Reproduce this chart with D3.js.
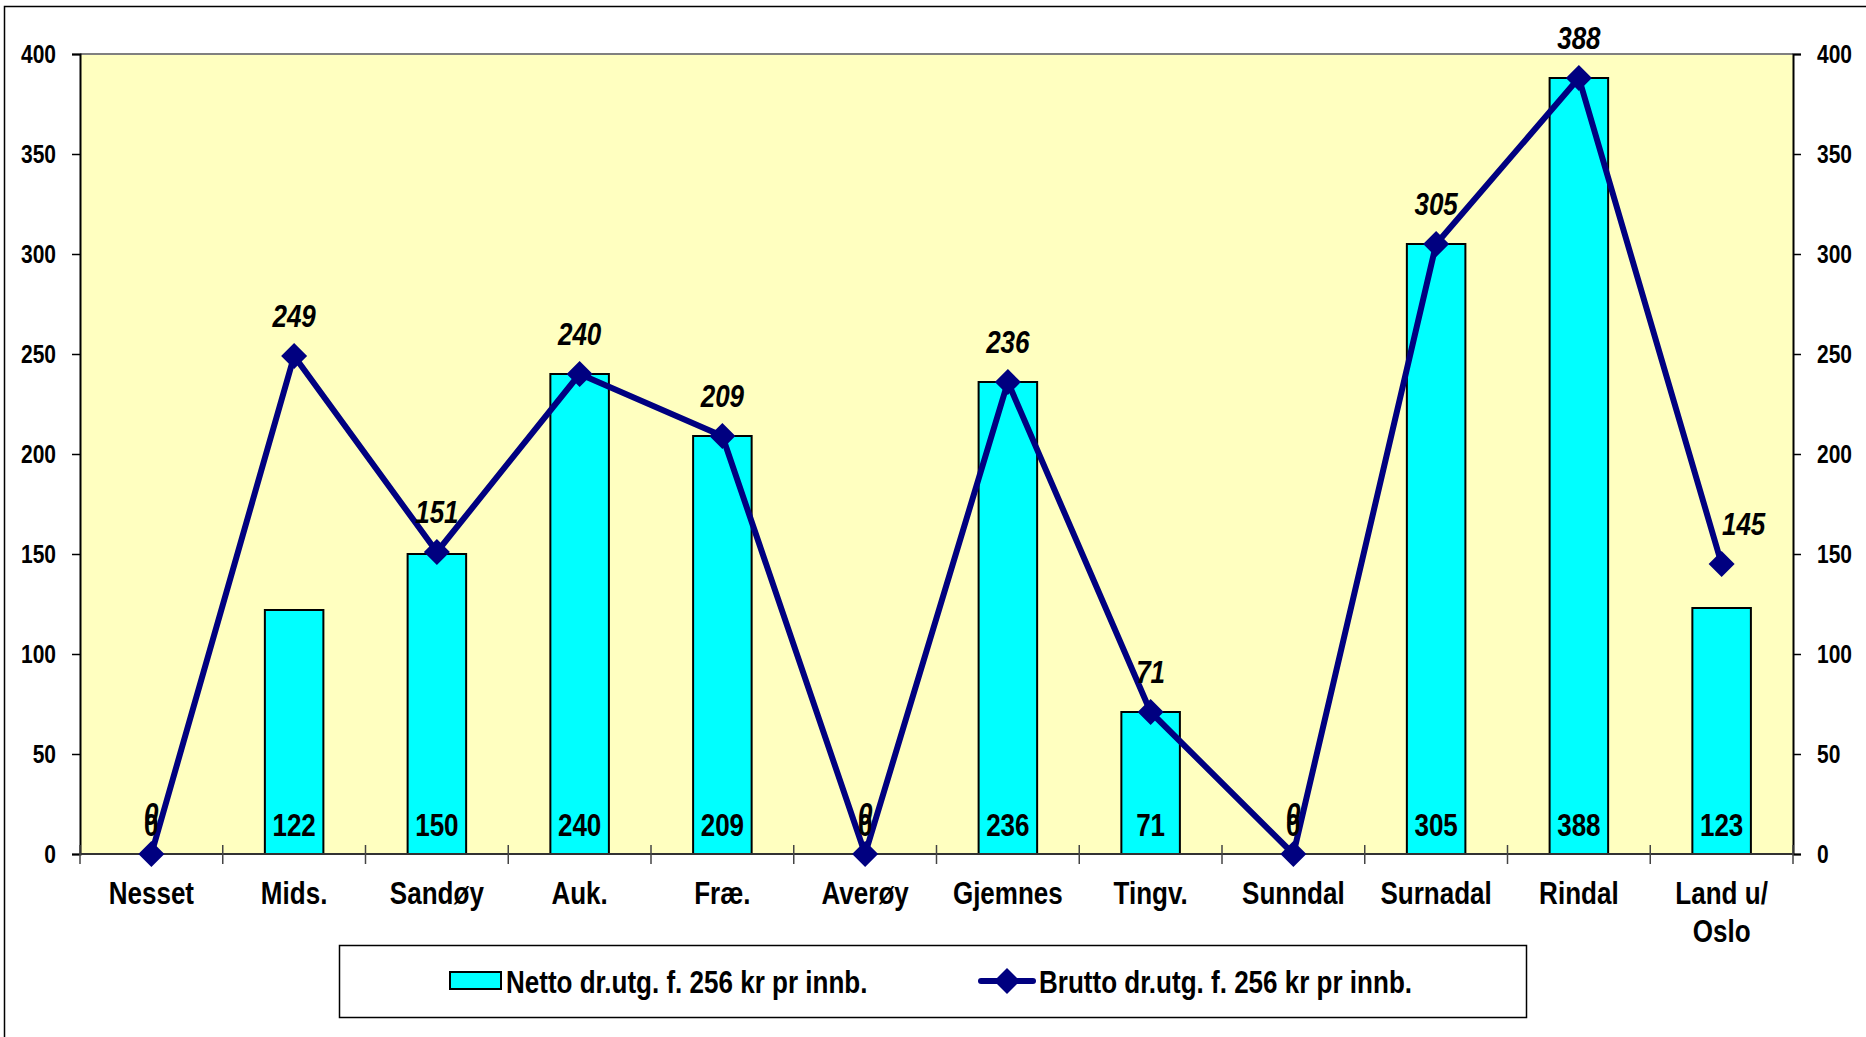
<!DOCTYPE html>
<meta charset="utf-8">
<script src="https://d3js.org/d3.v7.min.js"></script>
<style>
  body { margin: 0; background: #fff; }
  text { font-family: "Liberation Sans Narrow", "Arial Narrow", "Liberation Sans", sans-serif; font-weight: bold; fill: #000; }
</style>
<div id="my_dataviz"></div>
<script>

// data
var categories = ["Nesset", "Mids.", "Sandøy", "Auk.", "Fræ.", "Averøy", "Gjemnes", "Tingv.", "Sunndal", "Surnadal", "Rindal", "Land u/\nOslo"];
var netto = [0, 122, 150, 240, 209, 0, 236, 71, 0, 305, 388, 123];
var brutto = [0, 249, 151, 240, 209, 0, 236, 71, 0, 305, 388, 145];
var yTicks = [0, 50, 100, 150, 200, 250, 300, 350, 400];
var nettoName = "Netto dr.utg. f. 256 kr pr innb.";
var bruttoName = "Brutto dr.utg. f. 256 kr pr innb.";

var W = 1866, H = 1037;
var margin = {top: 54, right: 73, bottom: 183, left: 80},
    width = W - margin.left - margin.right,
    height = H - margin.top - margin.bottom;

// no narrow font installed, so squeeze the text horizontally round its anchor
var squeeze = 0.84;
function condense(sel) {
  sel.each(function() {
    var t = d3.select(this);
    var tx = +t.attr("x") || 0, ty = +t.attr("y") || 0;
    t.attr("transform", "translate(" + tx + "," + ty + ") scale(" + squeeze + ",1) translate(" + (-tx) + "," + (-ty) + ")");
  });
}

var svgRoot = d3.select("#my_dataviz")
  .append("svg")
    .attr("width", W)
    .attr("height", H);

// chart frame (only left and top edges are in view)
svgRoot.append("path")
  .attr("d", "M4.5," + H + "V6.5H" + W)
  .attr("fill", "none")
  .attr("stroke", "#000")
  .attr("stroke-width", 1.5);

var svg = svgRoot.append("g")
  .attr("transform", "translate(" + margin.left + "," + margin.top + ")");

var x = d3.scaleBand()
  .domain(categories)
  .range([0, width])
  .paddingInner(0)
  .paddingOuter(0);

var y = d3.scaleLinear()
  .domain([0, 400])
  .range([height, 0]);

var barW = x.bandwidth() * 0.41;

// plot area
svg.append("rect")
  .attr("width", width)
  .attr("height", height)
  .attr("fill", "#FFFFC0");
svg.append("line")
  .attr("x1", 0).attr("x2", width)
  .attr("y1", 0).attr("y2", 0)
  .attr("stroke", "#808080")
  .attr("stroke-width", 2);

// bars
svg.selectAll(".bar")
  .data(netto)
  .enter()
  .append("rect")
    .attr("class", "bar")
    .attr("x", function(d, i) { return x(categories[i]) + x.bandwidth() / 2 - barW / 2; })
    .attr("y", function(d) { return y(d); })
    .attr("width", barW)
    .attr("height", function(d) { return height - y(d); })
    .attr("fill", "#00FFFF")
    .attr("stroke", "#000")
    .attr("stroke-width", 2);

// y axes
var leftAxis = svg.append("g")
  .call(d3.axisLeft(y).tickValues(yTicks).tickSize(8).tickPadding(16));
var rightAxis = svg.append("g")
  .attr("transform", "translate(" + width + ",0)")
  .call(d3.axisRight(y).tickValues(yTicks).tickSize(8).tickPadding(16));
[leftAxis, rightAxis].forEach(function(a) {
  a.attr("font-family", null).attr("font-size", null);
  a.select(".domain").attr("stroke", "#000").attr("stroke-width", 2);
  a.selectAll(".tick line").attr("stroke", "#000").attr("stroke-width", 1.5);
  a.selectAll("text")
    .style("font-size", "25px")
    .attr("fill", "#000")
    .call(condense);
});

// x axis at zero with cross ticks between categories
var xg = svg.append("g").attr("transform", "translate(0," + height + ")");
xg.append("line")
  .attr("x1", 0).attr("x2", width)
  .attr("stroke", "#333")
  .attr("stroke-width", 2);
xg.selectAll(".xt")
  .data(d3.range(categories.length + 1))
  .enter()
  .append("line")
    .attr("x1", function(i) { return i * x.step(); })
    .attr("x2", function(i) { return i * x.step(); })
    .attr("y1", -9).attr("y2", 10)
    .attr("stroke", "#444")
    .attr("stroke-width", 1.5);
xg.selectAll(".xl")
  .data(categories)
  .enter()
  .append("text")
    .attr("text-anchor", "middle")
    .attr("x", function(d) { return x(d) + x.bandwidth() / 2; })
    .attr("y", 50)
    .style("font-size", "31px")
    .each(function(d) {
      var t = d3.select(this);
      d.split("\n").forEach(function(s, k) {
        t.append("tspan")
          .attr("x", x(d) + x.bandwidth() / 2)
          .attr("dy", k === 0 ? 0 : 38)
          .text(s);
      });
    })
    .call(condense);

// line
var cx = function(d, i) { return x(categories[i]) + x.bandwidth() / 2; };
svg.append("path")
  .datum(brutto)
  .attr("d", d3.line().x(cx).y(function(d) { return y(d); }))
  .attr("fill", "none")
  .attr("stroke", "#000080")
  .attr("stroke-width", 6)
  .attr("stroke-linejoin", "round");

var diamond = "M0,-13L13,0L0,13L-13,0Z";
svg.selectAll(".pt")
  .data(brutto)
  .enter()
  .append("path")
    .attr("d", diamond)
    .attr("transform", function(d, i) { return "translate(" + cx(d, i) + "," + y(d) + ")"; })
    .attr("fill", "#000080");

// bar value labels
svg.selectAll(".bl")
  .data(netto)
  .enter()
  .append("text")
    .attr("text-anchor", "middle")
    .attr("x", cx)
    .attr("y", height - 18)
    .style("font-size", "31px")
    .text(function(d) { return d; })
    .call(condense);

// line value labels
svg.selectAll(".ll")
  .data(brutto)
  .enter()
  .append("text")
    .attr("text-anchor", "middle")
    .attr("x", function(d, i) { return cx(d, i) + (i === brutto.length - 1 ? 22 : 0); })
    .attr("y", function(d) { return y(d) - 29; })
    .style("font-size", "31px")
    .style("font-style", "italic")
    .text(function(d) { return d; })
    .call(condense);

// legend
var lg = svgRoot.append("g");
lg.append("rect")
  .attr("x", 339.5).attr("y", 945.5)
  .attr("width", 1187).attr("height", 72)
  .attr("fill", "#fff")
  .attr("stroke", "#000")
  .attr("stroke-width", 1.5);
lg.append("rect")
  .attr("x", 450).attr("y", 972)
  .attr("width", 51).attr("height", 17)
  .attr("fill", "#00FFFF")
  .attr("stroke", "#000")
  .attr("stroke-width", 2);
lg.append("text")
  .attr("x", 506).attr("y", 993)
  .style("font-size", "31px")
  .text(nettoName)
  .call(condense);
lg.append("line")
  .attr("x1", 981).attr("x2", 1033)
  .attr("y1", 981).attr("y2", 981)
  .attr("stroke", "#000080")
  .attr("stroke-width", 6)
  .attr("stroke-linecap", "round");
lg.append("path")
  .attr("d", diamond)
  .attr("transform", "translate(1007,981)")
  .attr("fill", "#000080");
lg.append("text")
  .attr("x", 1039).attr("y", 993)
  .style("font-size", "31px")
  .text(bruttoName)
  .call(condense);

</script>
